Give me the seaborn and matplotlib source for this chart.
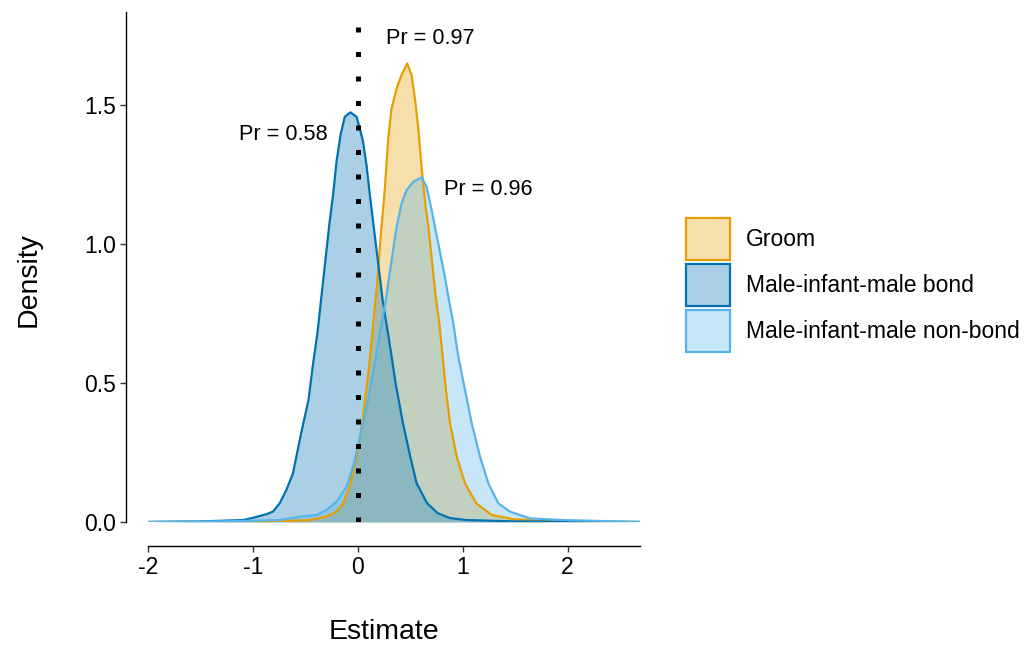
import pandas as pd
import numpy as np
import seaborn as sns
import matplotlib.pyplot as plt
from matplotlib.patches import Patch

# densidades (estimativa posterior)
groom_x = [-2.0, -0.8, -0.458, -0.30, -0.203, -0.14, -0.076, 0.003, 0.05, 0.108, 0.169, 0.185,
           0.22, 0.258, 0.29, 0.322, 0.37, 0.417, 0.471, 0.513, 0.544, 0.576, 0.61, 0.645, 0.67,
           0.713, 0.74, 0.777, 0.809, 0.84, 0.879, 0.943, 1.022, 1.13, 1.277, 1.483, 1.8, 2.7]
groom_y = [0.0, 0.002, 0.007, 0.019, 0.037, 0.067, 0.127, 0.259, 0.379, 0.559, 0.80, 0.859,
           1.038, 1.20, 1.38, 1.488, 1.56, 1.608, 1.65, 1.608, 1.524, 1.42, 1.27, 1.14, 1.07,
           0.918, 0.82, 0.715, 0.595, 0.475, 0.355, 0.235, 0.139, 0.067, 0.025, 0.01, 0.003, 0.0]

bond_x = [-2.0, -1.5, -1.095, -1.0, -0.872, -0.81, -0.745, -0.681, -0.618, -0.54, -0.47, -0.43,
          -0.385, -0.35, -0.27, -0.236, -0.203, -0.165, -0.124, -0.07, -0.012, 0.019, 0.05, 0.083,
          0.115, 0.236, 0.30, 0.36, 0.43, 0.50, 0.56, 0.66, 0.76, 0.88, 1.04, 1.5, 2.7]
bond_y = [0.0, 0.002, 0.007, 0.015, 0.028, 0.037, 0.067, 0.115, 0.175, 0.32, 0.439, 0.559,
          0.68, 0.80, 1.076, 1.176, 1.296, 1.392, 1.458, 1.474, 1.458, 1.416, 1.368, 1.284,
          1.176, 0.80, 0.65, 0.50, 0.356, 0.235, 0.14, 0.068, 0.032, 0.014, 0.007, 0.002, 0.0]

nonbond_x = [-2.0, -1.2, -0.745, -0.554, -0.394, -0.30, -0.203, -0.108, -0.045, 0.029, 0.098,
             0.156, 0.21, 0.267, 0.29, 0.322, 0.37, 0.417, 0.465, 0.528, 0.608, 0.656, 0.704,
             0.767, 0.83, 0.863, 0.91, 0.958, 1.022, 1.086, 1.165, 1.245, 1.34, 1.452, 1.643,
             1.96, 2.7]
nonbond_y = [0.0, 0.003, 0.007, 0.019, 0.025, 0.043, 0.073, 0.127, 0.199, 0.319, 0.439,
             0.559, 0.679, 0.799, 0.859, 0.942, 1.062, 1.146, 1.194, 1.224, 1.24, 1.206, 1.122,
             1.002, 0.882, 0.81, 0.715, 0.595, 0.475, 0.355, 0.235, 0.139, 0.067, 0.037, 0.013,
             0.007, 0.0]

grupos = ['Groom', 'Male-infant-male bond', 'Male-infant-male non-bond']
cores = ['#E69F00', '#0072B2', '#56B4E9']
anotacoes = ['Pr = 0.97', 'Pr = 0.58', 'Pr = 0.96']
anot_x = [0.688, -0.707, 1.242]
anot_y = [1.741, 1.396, 1.198]

df = pd.concat([
    pd.DataFrame({'Estimate': groom_x, 'Density': groom_y, 'grupo': grupos[0]}),
    pd.DataFrame({'Estimate': bond_x, 'Density': bond_y, 'grupo': grupos[1]}),
    pd.DataFrame({'Estimate': nonbond_x, 'Density': nonbond_y, 'grupo': grupos[2]}),
])

sns.set_style('ticks')
plt.rcParams['font.family'] = ['Liberation Sans', 'DejaVu Sans']
plt.rcParams['axes.unicode_minus'] = False
plt.rcParams['text.color'] = 'black'
plt.rcParams['axes.labelcolor'] = 'black'

fig = plt.figure(figsize=(10.33, 6.47), dpi=100)
ax = fig.add_axes([148 / 1033, 125 / 647, 492 / 1033, 510 / 647])

paleta = dict(zip(grupos, cores))
for g in grupos:
    sub = df[df['grupo'] == g]
    ax.fill_between(sub['Estimate'], sub['Density'], color=paleta[g], alpha=0.33, linewidth=0)
    sns.lineplot(data=sub, x='Estimate', y='Density', color=paleta[g], linewidth=1.6,
                 ax=ax, legend=False, sort=False)

ax.axvline(0, color='black', linewidth=3.6, linestyle=(0, (1, 3.9)), dash_capstyle='butt')

for txt, x, y in zip(anotacoes, anot_x, anot_y):
    ax.text(x, y, txt, ha='center', va='center', fontsize=15.7, color='black')

ax.set_xlim(-2, 2.69)
ax.set_ylim(0, 1.835)
ax.set_xticks([-2, -1, 0, 1, 2])
ax.set_xticklabels(['-2', '-1', '0', '1', '2'])
ax.set_yticks([0, 0.5, 1.0, 1.5])
ax.set_yticklabels(['0.0', '0.5', '1.0', '1.5'])
ax.tick_params(labelsize=16.5, length=4, width=1, colors='#333333', labelcolor='black')

sns.despine(ax=ax)
ax.spines['left'].set_position(('outward', 15.8))
ax.spines['bottom'].set_position(('outward', 17.3))
for s in ['left', 'bottom']:
    ax.spines[s].set_color('black')
    ax.spines[s].set_linewidth(1)

ax.set_xlabel('Estimate', fontsize=20.5)
ax.set_ylabel('Density', fontsize=20.5)
ax.xaxis.set_label_coords(0.48, -0.19)
ax.yaxis.set_label_coords(-0.216, 0.475)

handles = []
for c in cores:
    rgb = np.array(plt.matplotlib.colors.to_rgb(c))
    handles.append(Patch(facecolor=tuple(1 - 0.33 * (1 - rgb)), edgecolor=c, linewidth=1.6))
fig.legend(handles, grupos, loc='center left', bbox_to_anchor=(686 / 1033, 1 - 285 / 647),
           frameon=False, fontsize=16.5, handlelength=1.92, handleheight=2.44,
           handletextpad=0.7, labelspacing=0.175, borderpad=0, borderaxespad=0)

fig.savefig('out.png', dpi=100)
